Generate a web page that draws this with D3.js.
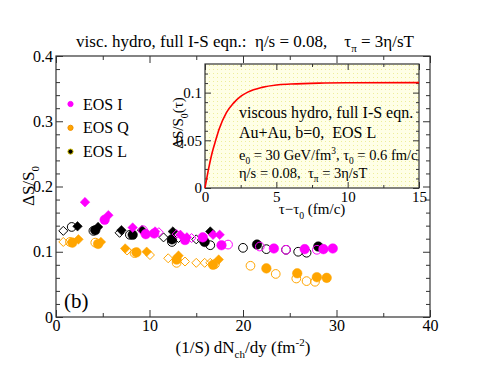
<!DOCTYPE html>
<html>
<head>
<meta charset="utf-8">
<script src="https://d3js.org/d3.v7.min.js"></script>
<style>
  body { margin: 0; background: #fff; }
  svg, svg text, svg tspan { font-family: "Liberation Serif", "DejaVu Serif", serif !important; }
  text { fill: #000; white-space: pre; }
</style>
</head>
<body>
<div id="vis"></div>
<script>
// ---- data ----
// main panel: (1/S) dNch/dy vs dS/S0, points as [x, y]
var eosI_filledDiamonds = [[3.1,0.176],[5.6,0.156],[8.2,0.137],[10.6,0.131],[13.3,0.126],[14.0,0.122],[16.8,0.126],[17.5,0.126]];
var eosI_filledCircles  = [[5.2,0.149],[9.6,0.127],[10.5,0.128],[13.8,0.118],[15.7,0.122],[17.7,0.110],[23.3,0.105],[26.6,0.104],[28.6,0.104],[29.6,0.105]];
var eosI_openCircles    = [[9.3,0.133],[18.4,0.111],[21.8,0.108],[24.6,0.103],[27.9,0.103]];
var eosI_openDiamonds   = [[11.0,0.130],[12.9,0.127],[14.5,0.121]];

var eosQ_filledDiamonds = [[2.4,0.119],[4.8,0.115],[7.4,0.105],[9.7,0.100],[13.1,0.094],[17.4,0.088]];
var eosQ_filledCircles  = [[1.75,0.114],[4.5,0.112],[8.6,0.099],[12.9,0.088],[16.8,0.080],[22.5,0.0745],[25.8,0.067],[27.9,0.061],[28.95,0.060]];
var eosQ_openCircles    = [[1.5,0.115],[4.2,0.114],[8.4,0.098],[12.9,0.083],[17.0,0.081],[20.8,0.0785],[23.5,0.066],[25.7,0.059],[26.8,0.055],[27.7,0.054]];
var eosQ_openDiamonds   = [[0.78,0.115],[7.6,0.102],[10.05,0.095],[12.0,0.090],[13.8,0.085],[15.0,0.083],[15.9,0.083],[16.5,0.083]];

var eosL_filledDiamonds = [[2.3,0.139],[4.5,0.138],[7.0,0.133],[9.2,0.133],[12.5,0.131],[16.5,0.131]];
var eosL_filledCircles  = [[4.2,0.133],[8.2,0.126],[12.4,0.119],[15.9,0.115],[21.5,0.111],[28.05,0.108]];
var eosL_openCircles    = [[1.68,0.138],[4.0,0.132],[7.9,0.126],[12.4,0.115],[16.5,0.110],[20.0,0.106],[22.5,0.104],[24.6,0.103],[25.9,0.100],[26.8,0.0985]];
var eosL_openDiamonds   = [[0.78,0.132],[6.8,0.129],[11.5,0.122],[13.1,0.121],[15.0,0.119],[15.6,0.118]];

// inset: dS/S0 as function of tau - tau0
var insetTau = [0, 0.25, 0.5, 0.75, 1.0, 1.5, 2.0, 2.5, 3.0, 4.0, 5.0, 6.0, 8.0, 10.0, 15.0];
var insetDS  = [0, 0.020, 0.037, 0.050, 0.062, 0.079, 0.089, 0.096, 0.1005, 0.1055, 0.108, 0.109, 0.110, 0.1103, 0.1105];

var mainXTicks = [0, 10, 20, 30, 40];
var mainYTicks = [0, 0.1, 0.2, 0.3, 0.4];
var insetXTicks = [0, 5, 10, 15];
var insetYTicks = [0, 0.05, 0.1];

var legendNames = ["EOS I", "EOS Q", "EOS L"];
var colors = { I: "#ff00ff", Q: "#ffa500", L: "#000000" };

var FONT = "Liberation Serif, DejaVu Serif, serif";

// ---- svg ----
var W = 484, H = 374;
var svg = d3.select("#vis").append("svg").attr("width", W).attr("height", H)
  .attr("font-family", FONT);

var defs = svg.append("defs");
var pat = defs.append("pattern").attr("id", "dots").attr("width", 4).attr("height", 4)
  .attr("patternUnits", "userSpaceOnUse");
pat.append("rect").attr("width", 4).attr("height", 4).attr("fill", "#ffffe6");
pat.append("rect").attr("x", 1).attr("y", 1).attr("width", 1).attr("height", 1).attr("fill", "#eeee9a");

var x = d3.scaleLinear().domain([0, 40]).range([56, 430]);
var y = d3.scaleLinear().domain([0, 0.4]).range([317, 56]);

var xi = d3.scaleLinear().domain([0, 15]).range([205, 419]);
var yi = d3.scaleLinear().domain([0, 0.13]).range([188, 64]);

// rich text helper: parts = [[text, "sub"|"sup"|""], ...]
function rich(sel, parts, size) {
  sel.attr("font-family", FONT);
  var shift = 0;
  parts.forEach(function(p) {
    var target = p[1] == "sub" ? size * 0.3 : p[1] == "sup" ? -size * 0.4 : 0;
    var t = sel.append("tspan").text(p[0]).attr("dy", target - shift);
    if (p[1]) t.attr("font-size", size * 0.65);
    shift = target;
  });
  return sel;
}

// axes frame helper
function frame(g, xs, ys, xMaj, xMin, yMaj, yMin, xFmt, yFmt, fs, maj, mnr) {
  var x0 = xs.range()[0], x1 = xs.range()[1], y0 = ys.range()[0], y1 = ys.range()[1];
  var col = "#333";
  function ax(a, tr, ticks, size, fmt, pad) {
    var s = g.append("g").attr("transform", tr)
      .call(a.tickValues(ticks).tickSize(-size).tickPadding(pad).tickFormat(fmt));
    s.attr("font-family", FONT).attr("font-size", fs);
    s.select(".domain").remove();
    s.selectAll("line").attr("stroke", col);
    s.selectAll("text").attr("fill", "#000");
    return s;
  }
  var none = function() { return ""; };
  ax(d3.axisBottom(xs), "translate(0," + y0 + ")", xMaj, maj, xFmt, 3);
  ax(d3.axisBottom(xs), "translate(0," + y0 + ")", xMin, mnr, none, 3);
  ax(d3.axisTop(xs), "translate(0," + y1 + ")", xMaj, maj, none, 3);
  ax(d3.axisTop(xs), "translate(0," + y1 + ")", xMin, mnr, none, 3);
  ax(d3.axisLeft(ys), "translate(" + x0 + ",0)", yMaj, maj, yFmt, 3);
  ax(d3.axisLeft(ys), "translate(" + x0 + ",0)", yMin, mnr, none, 3);
  ax(d3.axisRight(ys), "translate(" + x1 + ",0)", yMaj, maj, none, 3);
  ax(d3.axisRight(ys), "translate(" + x1 + ",0)", yMin, mnr, none, 3);
  g.append("rect").attr("x", x0).attr("y", y1).attr("width", x1 - x0).attr("height", y0 - y1)
    .attr("fill", "none").attr("stroke", col).attr("stroke-width", 1.2);
}

function fmtNum(d) { return d == 0 ? "0" : String(d); }

// ---- main panel ----
var main = svg.append("g");
frame(main, x, y, mainXTicks, d3.range(5, 40, 10), mainYTicks,
  d3.range(0.02, 0.4, 0.02).filter(function(v) { return Math.abs(v * 10 - Math.round(v * 10)) > 1e-6; }),
  fmtNum, fmtNum, 16, 7, 4);

// markers
function diamond(s) { return "M0," + (-s) + "L" + s + ",0L0," + s + "L" + (-s) + ",0Z"; }
var pts = svg.append("g");
function drawSet(data, shape, filled, color) {
  var sel = pts.append("g").selectAll("path").data(data).enter().append("path")
    .attr("transform", function(d) { return "translate(" + x(d[0]) + "," + y(d[1]) + ")"; })
    .attr("d", shape == "circle" ? d3.symbol(d3.symbolCircle, filled ? 72 : 60)() : diamond(filled ? 4.8 : 4.5));
  if (filled) sel.attr("fill", color).attr("stroke", color).attr("stroke-width", 0.5);
  else sel.attr("fill", "none").attr("stroke", color).attr("stroke-width", 1);
}
var sets = [
  [eosL_openDiamonds, "diamond", false, colors.L], [eosL_openCircles, "circle", false, colors.L],
  [eosL_filledDiamonds, "diamond", true, colors.L], [eosL_filledCircles, "circle", true, colors.L],
  [eosI_openDiamonds, "diamond", false, colors.I], [eosI_openCircles, "circle", false, colors.I],
  [eosI_filledDiamonds, "diamond", true, colors.I], [eosI_filledCircles, "circle", true, colors.I],
  [eosQ_openDiamonds, "diamond", false, colors.Q], [eosQ_openCircles, "circle", false, colors.Q],
  [eosQ_filledDiamonds, "diamond", true, colors.Q], [eosQ_filledCircles, "circle", true, colors.Q]
];
sets.forEach(function(s) { drawSet(s[0], s[1], s[2], s[3]); });

// legend
var legColors = [colors.I, colors.Q, colors.L];
var legStroke = ["#ff00ff", "#f09000", "#d8c400"];
var leg = svg.append("g");
legendNames.forEach(function(n, i) {
  var ly = 104 + i * 23.8;
  leg.append("circle").attr("cx", 70.5).attr("cy", ly).attr("r", 2.6)
    .attr("fill", legColors[i]).attr("stroke", legStroke[i]).attr("stroke-width", 1);
  leg.append("text").attr("x", 83).attr("y", ly + 5.5).attr("font-size", 16)
    .attr("font-family", FONT).text(n);
});

// (b)
svg.append("text").attr("x", 64).attr("y", 308).attr("font-size", 21).attr("font-family", FONT).text("(b)");

// title
rich(svg.append("text").attr("x", 245).attr("y", 47).attr("text-anchor", "middle").attr("font-size", 17),
  [["visc. hydro, full I-S eqn.:  \u03b7/s = 0.08,    \u03c4", ""], ["\u03c0", "sub"], [" = 3\u03b7/sT", ""]], 17);

// axis labels
rich(svg.append("text").attr("x", 243).attr("y", 353).attr("text-anchor", "middle").attr("font-size", 17),
  [["(1/S) dN", ""], ["ch", "sub"], ["/dy (fm", ""], ["-2", "sup"], [")", ""]], 17);
rich(svg.append("text").attr("transform", "translate(34,186) rotate(-90)").attr("text-anchor", "middle").attr("font-size", 17),
  [["\u0394S/S", ""], ["0", "sub"]], 17);

// ---- inset ----
var inset = svg.append("g");
inset.append("rect").attr("x", 205).attr("y", 64).attr("width", 214).attr("height", 124).attr("fill", "url(#dots)");
frame(inset, xi, yi, insetXTicks, d3.range(2.5, 15, 5), insetYTicks,
  [0.01, 0.02, 0.03, 0.04, 0.06, 0.07, 0.08, 0.09, 0.11, 0.12],
  fmtNum, fmtNum, 15, 6, 3);

var line = d3.line()
  .x(function(d, i) { return xi(insetTau[i]); })
  .y(function(d, i) { return yi(insetDS[i]); })
  .curve(d3.curveMonotoneX);
inset.append("path").attr("d", line(insetTau)).attr("fill", "none").attr("stroke", "#ff0000").attr("stroke-width", 1.6);

var lines = [
  { y: 118, fs: 16, parts: [["viscous hydro, full I-S eqn.", ""]] },
  { y: 138, fs: 16, parts: [["Au+Au, b=0,  EOS L", ""]] },
  { y: 160, fs: 14.5, parts: [["e", ""], ["0", "sub"], [" = 30 GeV/fm", ""], ["3", "sup"], [", \u03c4", ""], ["0", "sub"], [" = 0.6 fm/c", ""]] },
  { y: 178, fs: 14.5, parts: [["\u03b7/s = 0.08,  \u03c4", ""], ["\u03c0", "sub"], [" = 3\u03b7/sT", ""]] }
];
lines.forEach(function(l) {
  rich(inset.append("text").attr("x", 239).attr("y", l.y).attr("font-size", l.fs), l.parts, l.fs);
});

rich(inset.append("text").attr("x", 312).attr("y", 214).attr("text-anchor", "middle").attr("font-size", 15),
  [["\u03c4\u2212\u03c4", ""], ["0", "sub"], [" (fm/c)", ""]], 15);
rich(inset.append("text").attr("transform", "translate(183,123) rotate(-90)").attr("text-anchor", "middle").attr("font-size", 15),
  [["\u0394S/S", ""], ["0", "sub"], ["(\u03c4)", ""]], 15);
</script>
</body>
</html>
